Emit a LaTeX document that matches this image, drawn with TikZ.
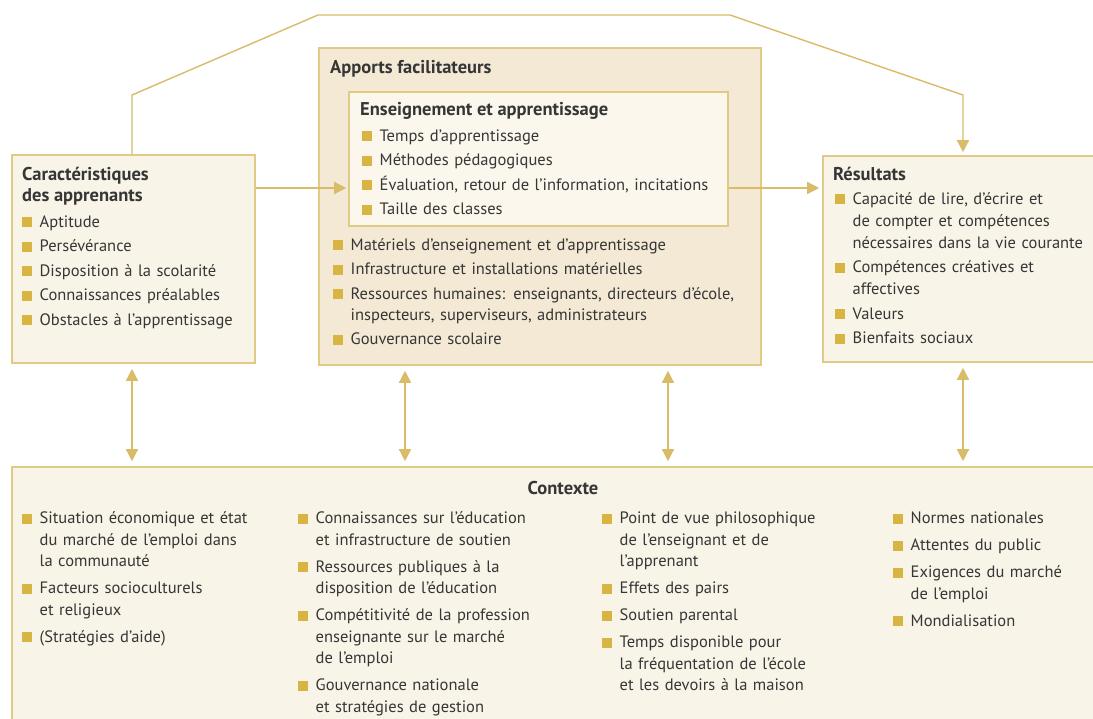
\documentclass[tikz,border=0pt]{standalone}
\usepackage{fontspec}
\setmainfont{PT Sans}
\usetikzlibrary{arrows.meta,fit}

\definecolor{gold}{HTML}{D8BC68}
\definecolor{edge}{HTML}{E0CA86}
\definecolor{cream}{HTML}{F9F4E8}
\definecolor{sand}{HTML}{F3E9D4}
\definecolor{paper}{HTML}{FBF7ED}
\definecolor{ink}{HTML}{363636}
\definecolor{bul}{HTML}{D8B443}

% bullet list items with a small square and hanging indent
\newlength\bind
\setlength\bind{17.5pt}
\newcommand\bsq{\textcolor{bul}{\rule{10pt}{10pt}}}
\newcommand\fitm[1]{\hangindent=\bind\hangafter=1\noindent\makebox[\bind][l]{\bsq}#1}
\newcommand\itm[1]{\par\fitm{#1}}
\newcommand\gap[1]{\setlength\parskip{#1}\setlength\parindent{0pt}}

\begin{document}
\begin{tikzpicture}[x=1pt,y=-1pt,
  box/.style={draw=edge, line width=1.6pt, fill=cream, inner sep=0pt},
  conn/.style={draw=gold, line width=1.4pt},
  tip/.style={-{Triangle[length=12pt,width=12pt,fill=gold]}},
  both/.style={{Triangle[length=12pt,width=12pt,fill=gold]}-{Triangle[length=12pt,width=12pt,fill=gold]}, shorten <=5pt, shorten >=5pt},
  head/.style={font=\bfseries\fontsize{18.5}{21}\selectfont, text=ink, inner sep=0pt, anchor=base west, align=left},
  list/.style={text width=#1, inner sep=0pt, anchor=base west, text=ink, font=\fontsize{16.5}{21}\selectfont},
]
\clip (0,0) rectangle (1093,719);
\fill[white] (0,0) rectangle (1093,719);

% boxes
\node[box, fit={(12,155) (255,363)}] (car) {};
\node[box, fill=sand, fit={(319,48) (761,365)}] (app) {};
\node[box, fill=paper, fit={(349,92) (728,226)}] (ens) {};
\node[box, fit={(823,156) (1110,362)}] (res) {};
\node[box, fit={(12,467) (1110,740)}] (ctx) {};

% bend points and arrow lanes
\coordinate (k1) at (132,95);
\coordinate (k2) at (318,15);
\coordinate (k3) at (730,15);
\coordinate (k4) at (963,95);
\coordinate (mid) at (0,188);
\coordinate (d1) at (132,0);
\coordinate (d2) at (405,0);
\coordinate (d3) at (668,0);
\coordinate (d4) at (963,0);

% connectors
\draw[conn,tip,shorten >=3pt] (car.north -| k1) -- (k1) -- (k2) -- (k3) -- (k4) -- (res.north -| k4);
\draw[conn,tip,shorten >=2pt] (car.east |- mid) -- (ens.west |- mid);
\draw[conn,tip,shorten >=3pt] (ens.east |- mid) -- (res.west |- mid);
\draw[conn,both] (car.south -| d1) -- (ctx.north -| d1);
\draw[conn,both] (app.south -| d2) -- (ctx.north -| d2);
\draw[conn,both] (app.south -| d3) -- (ctx.north -| d3);
\draw[conn,both] (res.south -| d4) -- (ctx.north -| d4);

% learner characteristics (two-line heading: base is its last line)
\node[head] (carH) at (22,202) {Caractéristiques\\des apprenants};
\node[list=230pt] (carL) at (22,227.5) {\gap{3.5pt}%
  \fitm{Aptitude}
  \itm{Persévérance}
  \itm{Disposition à la scolarité}
  \itm{Connaissances préalables}
  \itm{Obstacles à l’apprentissage}\par};

% enabling inputs
\node[head] (appH) at (330,74) {Apports facilitateurs};
\node[head] (ensH) at (360,116) {Enseignement et apprentissage};
\node[list=360pt] (ensL) at (362,141.5) {\gap{3.5pt}%
  \fitm{Temps d’apprentissage}
  \itm{Méthodes pédagogiques}
  \itm{Évaluation, retour de l’information, incitations}
  \itm{Taille des classes}\par};
\node[list=420pt] (appL) at (333,250.5) {\gap{3.5pt}%
  \fitm{Matériels d’enseignement et d’apprentissage}
  \itm{Infrastructure et installations matérielles}
  \itm{Ressources humaines: enseignants, directeurs d’école,\newline inspecteurs, superviseurs, administrateurs}
  \itm{Gouvernance scolaire}\par};

% outcomes
\node[head] (resH) at (833,181) {Résultats};
\node[list=270pt, font=\fontsize{16.5}{22}\selectfont] (resL) at (835,204.5) {\gap{2.5pt}%
  \fitm{Capacité de lire, d’écrire et\newline de compter et compétences\newline nécessaires dans la vie courante}
  \itm{Compétences créatives et\newline affectives}
  \itm{Valeurs}
  \itm{Bienfaits sociaux}\par};

% context
\node[head, anchor=base] (ctxH) at (563,494) {Contexte};
\node[list=260pt, font=\fontsize{16.5}{21.5}\selectfont] (c1) at (22,523.5) {\gap{5.5pt}%
  \fitm{Situation économique et état\newline du marché de l’emploi dans\newline la communauté}
  \itm{Facteurs socioculturels\newline et religieux}
  \itm{(Stratégies d’aide)}\par};
\node[list=290pt, font=\fontsize{16.5}{21.5}\selectfont] (c2) at (298,523.5) {\gap{5.5pt}%
  \fitm{Connaissances sur l’éducation\newline et infrastructure de soutien}
  \itm{Ressources publiques à la\newline disposition de l’éducation}
  \itm{Compétitivité de la profession\newline enseignante sur le marché\newline de l’emploi}
  \itm{Gouvernance nationale\newline et stratégies de gestion}\par};
\node[list=280pt, font=\fontsize{16.5}{21.5}\selectfont] (c3) at (602,523.5) {\gap{5.5pt}%
  \fitm{Point de vue philosophique\newline de l’enseignant et de\newline l’apprenant}
  \itm{Effets des pairs}
  \itm{Soutien parental}
  \itm{Temps disponible pour\newline la fréquentation de l’école\newline et les devoirs à la maison}\par};
\node[list=190pt, font=\fontsize{16.5}{21.5}\selectfont] (c4) at (893,523.5) {\gap{5.5pt}%
  \fitm{Normes nationales}
  \itm{Attentes du public}
  \itm{Exigences du marché\newline de l’emploi}
  \itm{Mondialisation}\par};
\end{tikzpicture}
\end{document}
